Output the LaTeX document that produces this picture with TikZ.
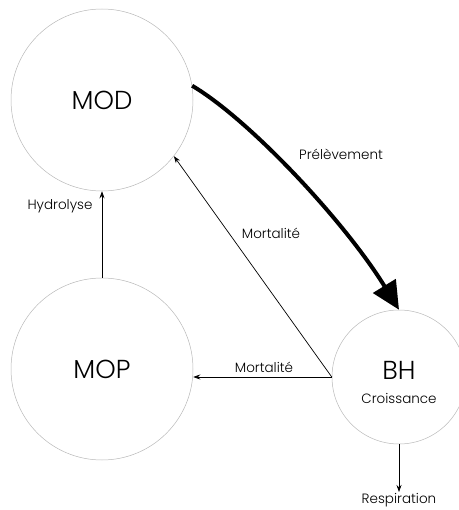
\documentclass[tikz,border=0pt]{standalone}
\usepackage{fontspec}
\setmainfont{Poppins}[UprightFont=* Light]
\usetikzlibrary{arrows.meta}
\begin{document}
\begin{tikzpicture}[x=1pt,y=-1pt,
  pool/.style={circle, draw=gray!55, line width=0.5pt, inner sep=0pt, minimum size=#1},
  flow/.style={-{Stealth[length=7pt,width=5pt]}, line width=0.7pt},
  bigflow/.style={-{Triangle[length=28pt,width=26pt]}, line width=4pt},
  lbl/.style={font=\fontsize{13.5}{15}\selectfont, inner sep=1pt},
  big/.style={font=\fontsize{26}{29}\selectfont}]
\useasboundingbox (0,0) rectangle (458,510);

% compartments
\node[pool=182pt] (mod) at (102,100) {};
\node[pool=182pt] (mop) at (102,369) {};
\node[pool=134pt] (bh)  at (399,377) {};
\node[big] (modt) at (mod) {MOD};
\node[big] (mopt) at (mop) {MOP};
\node[big] (bht) at (399,370) {BH};
\node[lbl] (cro) at (399,398) {Croissance};

% flows
\draw[flow] (mop.north) -- (mod.south);
\draw[flow] (bh.west) -- (mod.-38);
\draw[flow] (bh.west) -- (mop.east |- bh.west);
\coordinate (resp) at (bh.south |- 0,492);
\draw[flow] (bh.south) -- (resp);
\draw[bigflow] (mod.9) .. controls (250,120) and (345,222) .. (bh.north);

% labels
\node[lbl] (lhyd) at (60,206) {Hydrolyse};
\node[lbl] (lmd) at (271,233) {Mortalité};
\node[lbl] (lmh) at (264,367) {Mortalité};
\node[lbl] (lpre) at (341,154) {Prélèvement};
\node[lbl] (lres) at (resp) [below=0pt] {Respiration};
\end{tikzpicture}
\end{document}
